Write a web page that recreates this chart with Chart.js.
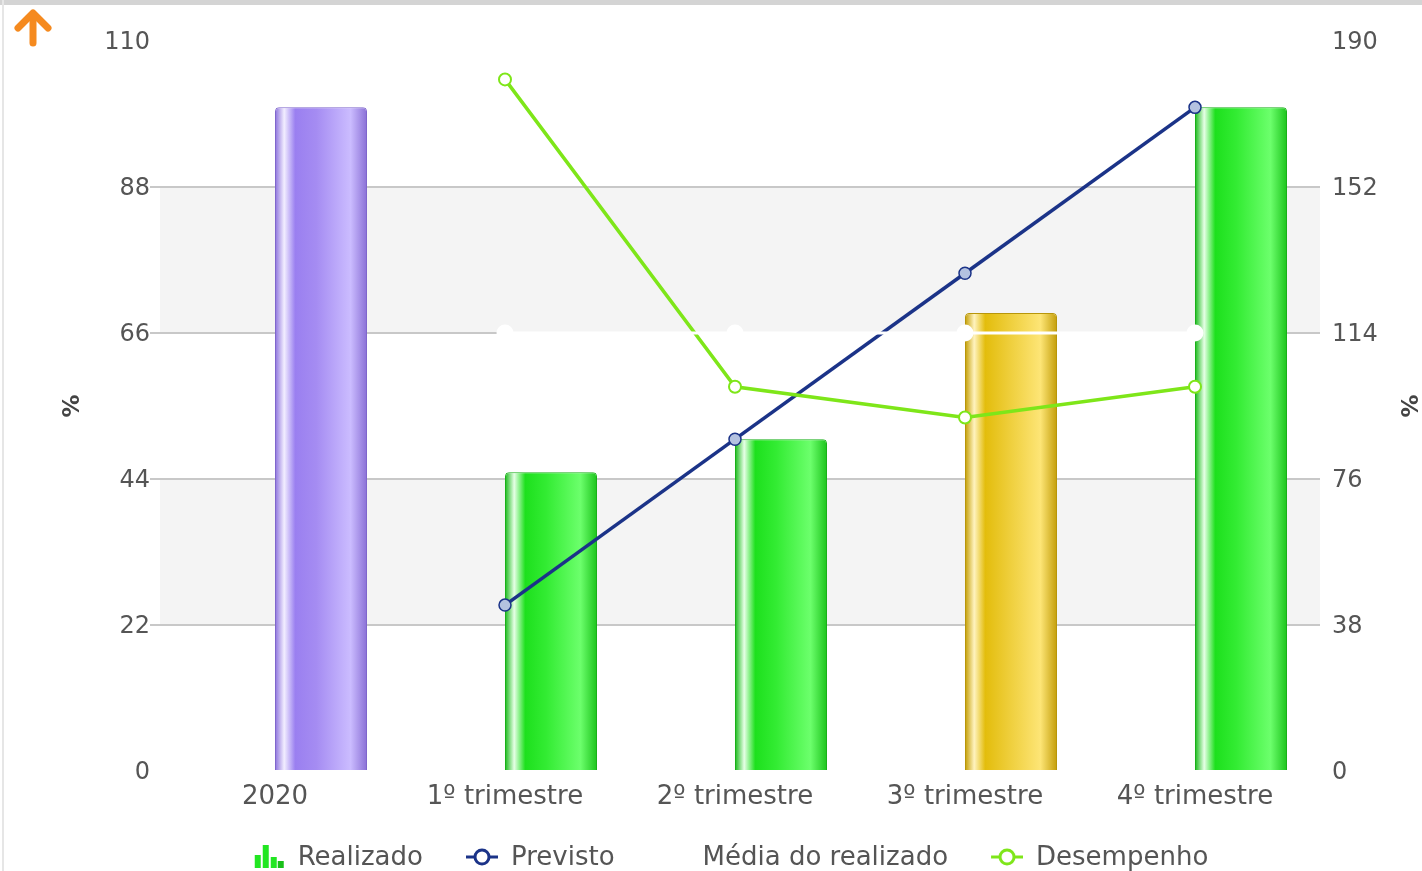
<!DOCTYPE html>
<html>
<head>
<meta charset="utf-8">
<script src="https://cdn.jsdelivr.net/npm/chart.js@4.4.1/dist/chart.umd.min.js"></script>
<style>
    html, body { margin: 0; padding: 0; background: #fff; }
    #wrap { position: relative; width: 1422px; height: 871px; overflow: hidden; }
    #topBorder { position: absolute; left: 0; top: 0; width: 1422px; height: 5px; background: #d4d4d4; }
    #leftBorder { position: absolute; left: 2px; top: 0; width: 2px; height: 871px; background: #e6e6e6; }
    #arrow { position: absolute; left: 13px; top: 8px; }
    canvas { position: absolute; left: 0; top: 0; }
</style>
</head>
<body>
<div id="wrap">
    <canvas id="mainChart" width="1422" height="871"></canvas>
    <div id="topBorder"></div>
    <div id="leftBorder"></div>
    <svg id="arrow" width="42" height="40" viewBox="0 0 42 40">
        <path d="M5 20 L20 5 L35 20" fill="none" stroke="#f58a1f" stroke-width="7" stroke-linecap="round" stroke-linejoin="round"/>
        <path d="M20 7 L20 35" fill="none" stroke="#f58a1f" stroke-width="7" stroke-linecap="round"/>
    </svg>
</div>
<script>
// Chart data
var categories = ['2020', '1º trimestre', '2º trimestre', '3º trimestre', '4º trimestre'];
var realizado = [100, 45, 50, 69, 100];
var previsto = [null, 25, 50, 75, 100];
var mediaRealizado = [null, 66, 66, 66, 66];
var desempenho = [null, 180, 100, 92, 100];
var leftTicks = [0, 22, 44, 66, 88, 110];
var rightTicks = [0, 38, 76, 114, 152, 190];
var legendNames = ['Realizado', 'Previsto', 'Média do realizado', 'Desempenho'];

// Bar colour per category (purple = year, green = ok, yellow = warning)
var barTones = ['purple', 'green', 'green', 'yellow', 'green'];
var toneStops = {
    purple: ['#8b70dc', '#f2eeff', '#9a7ff0', '#a58cf2', '#cbbcff', '#8a70d6'],
    green:  ['#16b816', '#e6ffe6', '#1de01d', '#33ec33', '#6cff6c', '#1cc41c'],
    yellow: ['#c29c00', '#fff3bf', '#e3bd0c', '#edcc35', '#fde576', '#c49e0a']
};
var toneBorder = { purple: '#7f66cc', green: '#19b019', yellow: '#b8960a' };

var fontFamily = 'DejaVu Sans, Verdana, sans-serif';
var textColor = '#555555';
var tickSize = 24;
var labelSize = 26;

// Horizontal glossy gradient for each bar
function barGradient(c) {
    var chart = c.chart;
    var tone = barTones[c.dataIndex] || 'green';
    var stops = toneStops[tone];
    var xs = chart.scales.x;
    if (!xs || !chart.chartArea) return stops[2];
    var center = xs.getPixelForValue(c.dataIndex);
    var w = xs.width / categories.length * 0.8 / 2;
    var g = chart.ctx.createLinearGradient(center, 0, center + w, 0);
    g.addColorStop(0, stops[0]);
    g.addColorStop(0.1, stops[1]);
    g.addColorStop(0.22, stops[2]);
    g.addColorStop(0.45, stops[3]);
    g.addColorStop(0.82, stops[4]);
    g.addColorStop(1, stops[5]);
    return g;
}

// Legend icons, with blank space on the left to spread the items
var iconGap = 39;
function makeIcon(kind, color) {
    var cv = document.createElement('canvas');
    cv.width = iconGap + 32;
    cv.height = 28;
    var x = cv.getContext('2d');
    x.translate(iconGap, 0);
    if (kind === 'bars') {
        x.fillStyle = '#22e622';
        x.fillRect(2, 11, 6, 13);
        x.fillRect(10, 1, 6, 23);
        x.fillRect(18, 13, 6, 11);
        x.fillStyle = '#19c019';
        x.fillRect(25, 17, 6, 7);
    } else if (kind === 'line') {
        x.strokeStyle = color;
        x.lineWidth = 3;
        x.beginPath();
        x.moveTo(0, 13);
        x.lineTo(32, 13);
        x.stroke();
        x.fillStyle = '#ffffff';
        x.beginPath();
        x.arc(16, 13, 7, 0, Math.PI * 2);
        x.fill();
        x.stroke();
    }
    return cv;
}

var legendIcons = [
    makeIcon('bars'),
    makeIcon('line', '#1b3388'),
    makeIcon('none'),
    makeIcon('line', '#7ee619')
];

// Alternating grey bands behind the plot
var bandsPlugin = {
    id: 'bands',
    beforeDraw: function(chart) {
        var area = chart.chartArea;
        var y = chart.scales.y;
        var ctx = chart.ctx;
        ctx.save();
        ctx.fillStyle = '#f4f4f4';
        for (var i = 1; i < leftTicks.length - 1; i += 2) {
            var top = y.getPixelForValue(leftTicks[i + 1]);
            var bottom = y.getPixelForValue(leftTicks[i]);
            ctx.fillRect(area.left, top, area.right - area.left + 10, bottom - top);
        }
        ctx.restore();
    }
};

function edgeHidden(ticks) {
    return function(c) {
        if (c.tick && (c.tick.value === ticks[0] || c.tick.value === ticks[ticks.length - 1])) {
            return 'rgba(0,0,0,0)';
        }
        return '#c8c8c8';
    };
}

var ctx = document.getElementById('mainChart').getContext('2d');

var mainChart = new Chart(ctx, {
    type: 'bar',
    data: {
        labels: categories,
        datasets: [
            {
                type: 'line',
                label: 'Previsto',
                data: previsto,
                yAxisID: 'y',
                borderColor: '#1b3388',
                borderWidth: 3.5,
                pointRadius: 6,
                pointBorderWidth: 1.5,
                pointBackgroundColor: '#b4c2e0',
                pointBorderColor: '#1b3388',
                tension: 0,
                order: 3
            },
            {
                type: 'line',
                label: 'Média do realizado',
                data: mediaRealizado,
                yAxisID: 'y',
                borderColor: '#ffffff',
                borderWidth: 3,
                pointRadius: 7,
                pointBackgroundColor: '#ffffff',
                pointBorderColor: '#ffffff',
                tension: 0,
                order: 1
            },
            {
                type: 'line',
                label: 'Desempenho',
                data: desempenho,
                yAxisID: 'y1',
                borderColor: '#7ee619',
                borderWidth: 3.5,
                pointRadius: 6,
                pointBorderWidth: 2,
                pointBackgroundColor: '#ffffff',
                pointBorderColor: '#7ee619',
                tension: 0,
                order: 2
            },
            {
                label: '',
                data: categories.map(function() { return null; }),
                yAxisID: 'y',
                categoryPercentage: 0.8,
                barPercentage: 1,
                order: 8
            },
            {
                label: 'Realizado',
                data: realizado,
                yAxisID: 'y',
                backgroundColor: barGradient,
                borderColor: function(c) { return toneBorder[barTones[c.dataIndex]]; },
                borderWidth: 1,
                borderRadius: { topLeft: 4, topRight: 4 },
                borderSkipped: 'bottom',
                categoryPercentage: 0.8,
                barPercentage: 1,
                order: 9
            }
        ]
    },
    options: {
        responsive: false,
        animation: false,
        layout: {
            padding: { top: 41, left: 0, right: 0, bottom: -10 }
        },
        scales: {
            x: {
                grid: { display: false, drawTicks: false },
                border: { display: false },
                ticks: {
                    color: textColor,
                    font: { family: fontFamily, size: labelSize },
                    padding: 11,
                    maxRotation: 0
                },
                afterFit: function(s) { s.height = 70; }
            },
            y: {
                position: 'left',
                min: 0,
                max: 110,
                afterBuildTicks: function(s) {
                    s.ticks = leftTicks.map(function(v) { return { value: v }; });
                },
                grid: { color: edgeHidden(leftTicks), lineWidth: 2, tickLength: 10 },
                border: { display: false },
                ticks: {
                    color: textColor,
                    font: { family: fontFamily, size: tickSize },
                    padding: 0,
                    labelOffset: 2
                },
                title: {
                    display: true,
                    text: '%',
                    color: '#444444',
                    font: { family: fontFamily, size: 23, weight: 'bold' },
                    padding: { top: 59, bottom: 0 }
                },
                afterFit: function(s) { s.width = 160; }
            },
            y1: {
                position: 'right',
                min: 0,
                max: 190,
                afterBuildTicks: function(s) {
                    s.ticks = rightTicks.map(function(v) { return { value: v }; });
                },
                grid: { drawOnChartArea: false, color: edgeHidden(rightTicks), lineWidth: 2, tickLength: 10 },
                border: { display: false },
                ticks: {
                    color: textColor,
                    font: { family: fontFamily, size: tickSize },
                    padding: 12,
                    labelOffset: 2
                },
                title: {
                    display: true,
                    text: '%',
                    color: '#444444',
                    font: { family: fontFamily, size: 23, weight: 'bold' },
                    padding: { top: 1, bottom: 0 }
                },
                afterFit: function(s) { s.width = 112; }
            }
        },
        plugins: {
            tooltip: { enabled: false },
            legend: {
                position: 'bottom',
                labels: {
                    color: textColor,
                    font: { family: fontFamily, size: labelSize },
                    usePointStyle: true,
                    pointStyleWidth: iconGap + 32,
                    padding: 4,
                    generateLabels: function(chart) {
                        var items = [];
                        for (var i = 0; i < legendNames.length; i++) {
                            items.push({
                                text: legendNames[i],
                                pointStyle: legendIcons[i],
                                fillStyle: 'transparent',
                                strokeStyle: 'transparent',
                                lineWidth: 0,
                                fontColor: textColor,
                                hidden: false
                            });
                        }
                        return items;
                    }
                },
                onClick: function() {}
            }
        }
    },
    plugins: [bandsPlugin]
});
</script>
</body>
</html>
